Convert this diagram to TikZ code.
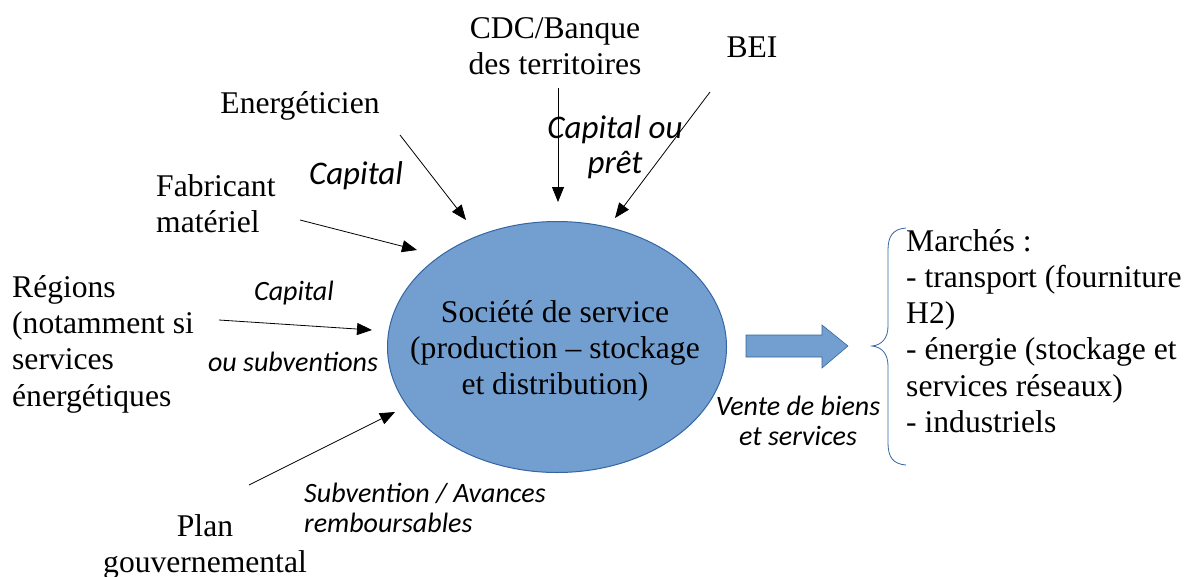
\documentclass[tikz,border=0pt]{standalone}
\usepackage{fontspec}
\setmainfont{Liberation Serif}
\newfontfamily\itf{Carlito}[UprightFont=* Italic]
\usetikzlibrary{arrows.meta,shapes.geometric}
\definecolor{ellfill}{RGB}{114,159,207}
\definecolor{elldraw}{RGB}{52,101,164}
\tikzset{
  lbl/.style={inner sep=0pt, font=\fontsize{31.6}{36.3}\selectfont},
  itl/.style={inner sep=0pt, font=\itf\fontsize{33}{35}\selectfont},
  itls/.style={inner sep=0pt, font=\itf\fontsize{28}{30}\selectfont},
  flow/.style={-{Triangle[length=15pt,width=12pt]}, line width=0.8pt},
}
\begin{document}
\begin{tikzpicture}[x=1pt,y=-1pt]
\useasboundingbox (0,0) rectangle (1185,576);
% central ellipse
\node[ellipse, draw=elldraw, fill=ellfill, line width=1pt, minimum width=339pt, minimum height=251pt, inner sep=0pt] (soc) at (557,347) {};
\node[lbl, align=center] (soctxt) at (555,351) {Société de service\\(production – stockage\\et distribution)};
% sources
\node[lbl, align=center] (cdc) at (555,46) {CDC/Banque\\des territoires};
\node[lbl] (bei) at (752,47) {BEI};
\node[lbl] (ener) at (300,106) {Energéticien};
\node[lbl, align=left, anchor=west] (fab) at (156,204) {Fabricant\\matériel};
\node[lbl, align=left, anchor=west] (reg) at (12,344) {Régions\\(notamment si\\services\\énergétiques};
\node[lbl, align=center] (plan) at (205,547) {Plan\\gouvernemental};
% labels
\node[itl] (capA) at (356,176) {Capital};
\node[itl, align=center] (capB) at (615,147) {Capital ou\\prêt};
\node[itls] (capC) at (294,293) {Capital};
\node[itls] (ousub) at (293,362) {ou subventions};
\node[itls, align=left, anchor=west] (subv) at (304,508) {Subvention / Avances\\remboursables};
\node[itls, align=center] (vente) at (798,421) {Vente de biens\\et services};
% arrow endpoints
\coordinate (eS) at (400,135); \coordinate (eE) at (466,220);
\coordinate (fS) at (300,220); \coordinate (fE) at (417,250);
\coordinate (rS) at (219,320); \coordinate (rE) at (372,330);
\coordinate (pS) at (249,485); \coordinate (pE) at (395,412);
\coordinate (cS) at (558,88);  \coordinate (cE) at (558,202);
\coordinate (bS) at (710,92);  \coordinate (bE) at (615,218);
\draw[flow] (eS) -- (eE);
\draw[flow] (fS) -- (fE);
\draw[flow] (rS) -- (rE);
\draw[flow] (pS) -- (pE);
\draw[flow] (cS) -- (cE);
\draw[flow] (bS) -- (bE);
% block arrow
\draw[draw=elldraw, fill=ellfill, line width=0.6pt] (746,335) -- (822,335) -- (822,325) -- (848,346) -- (822,368) -- (822,357) -- (746,357) -- cycle;
% brace
\draw[elldraw, line width=0.8pt] (906,228) .. controls (893,229) and (888,236) .. (888,250) -- (888,326) .. controls (888,338) and (882,345) .. (872,346) .. controls (882,347) and (888,354) .. (888,366) -- (888,443) .. controls (888,457) and (893,464) .. (906,465);
% markets
\node[lbl, align=left, anchor=west] (mk) at (906,331) {Marchés :\\- transport (fourniture\\H2)\\- énergie (stockage et\\services réseaux)\\- industriels};
\end{tikzpicture}
\end{document}
